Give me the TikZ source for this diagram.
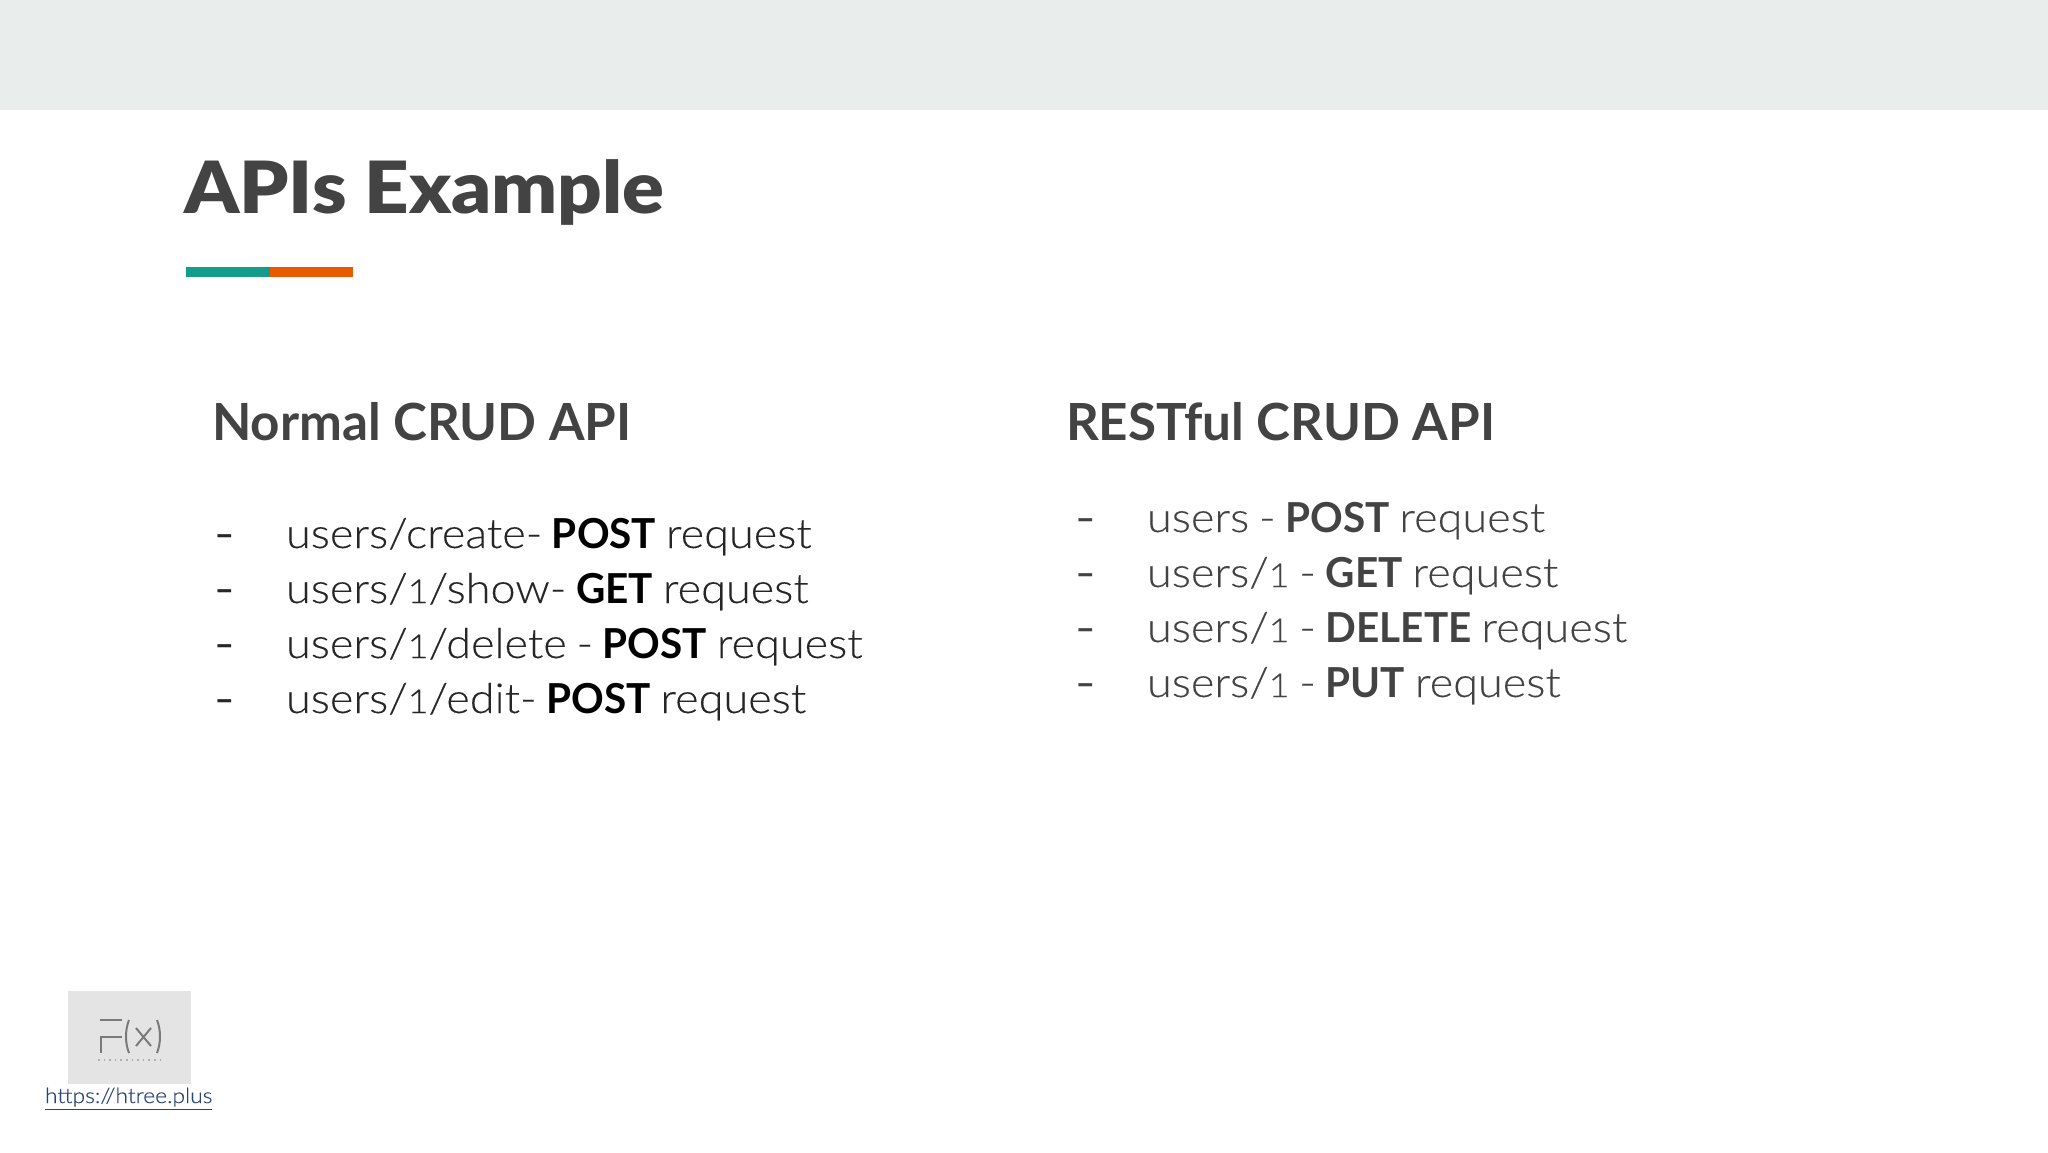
\documentclass[tikz,border=0pt]{standalone}
\usepackage{fontspec}
\setmainfont{Lato}
\newfontfamily\lightf{Lato Light}[FakeStretch=1.09,WordSpace=0.8,UprightFeatures={FakeBold=0.2},BoldFont=Lato Bold,BoldFeatures={FakeStretch=0.98}]
\newfontfamily\titlef{Lato Black}[FakeStretch=1.08]
\newcommand{\oo}{\scalebox{.8}{1}}
\definecolor{band}{HTML}{E9EEEC}
\definecolor{ink}{HTML}{434343}
\definecolor{teal}{HTML}{149C8B}
\definecolor{rust}{HTML}{E85A00}
\definecolor{logobg}{HTML}{E4E4E4}
\definecolor{logoink}{HTML}{7A7A7A}
\definecolor{linkc}{HTML}{2B4478}
\tikzset{
  x=0.5pt,y=-0.5pt,
  txt/.style={anchor=base west,inner sep=0pt,outer sep=0pt},
  title/.style={txt,text=ink,font=\fontsize{36}{40}\selectfont\titlef},
  head/.style={txt,text=ink,font=\fontsize{25.6}{30}\selectfont\bfseries},
  item/.style={txt,text=black!85,font=\fontsize{20.65}{24}\selectfont\lightf},
  itemr/.style={item,text=ink},
  dashl/.style={txt,text=black!85,font=\fontsize{20.5}{24}\selectfont},
  dashr/.style={dashl,text=ink},
  logol/.style={draw=logoink,line width=1pt},
}
\begin{document}
\begin{tikzpicture}
\useasboundingbox (0,0) rectangle (2048,1152);
\fill[white] (0,0) rectangle (2048,1152);
\fill[band] (0,0) rectangle (2048,110);
\node[title] (ttl) at (184,213) {APIs Example};
\fill[teal] (186,267) rectangle (270,277);
\fill[rust] (270,267) rectangle (353,277);
\node[head] (hl) at (212,440) {Normal CRUD API};
\node[head] (hr) at (1066,440) {RESTful CRUD API};
\foreach \n/\y/\t in {a/548/{users/create- {\color{black}\textbf{POST}} request},b/603/{users/\oo/show- {\color{black}\textbf{GET}} request},c/658/{users/\oo/delete - {\color{black}\textbf{POST}} request},d/713/{users/\oo/edit- {\color{black}\textbf{POST}} request}}{
  \node[dashl] (d\n) at (214,\y) {\scalebox{1.35}[1]{-}};
  \node[item] (l\n) at (286,\y) {\t};
}
\foreach \n/\y/\t in {a/532/{users - \textbf{POST} request},b/587/{users/\oo{} - \textbf{GET} request},c/642/{users/\oo{} - \textbf{DELETE} request},d/697/{users/\oo{} - \textbf{PUT} request}}{
  \node[dashr] (e\n) at (1075,\y) {\scalebox{1.35}[1]{-}};
  \node[itemr] (r\n) at (1147,\y) {\t};
}
\fill[logobg] (68,991) rectangle (191,1084);
\draw[logol] (100,1020) -- (122,1020) (122,1037) -- (101,1037) -- (101,1053);
\draw[logol] (129,1020) .. controls (125,1030) and (125,1043) .. (129,1053);
\draw[logol] (157,1020) .. controls (161,1030) and (161,1043) .. (157,1053);
\draw[logol] (136,1028) -- (151,1046) (151,1028) -- (136,1046);
\draw[draw=logoink!60,line width=0.8pt,dotted] (98,1060) -- (160,1060);
\node[txt,text=linkc,font=\fontsize{10.5}{12}\selectfont\lightf] (lnk) at (45,1103) {\underline{https://htree.plus}};
\end{tikzpicture}
\end{document}
